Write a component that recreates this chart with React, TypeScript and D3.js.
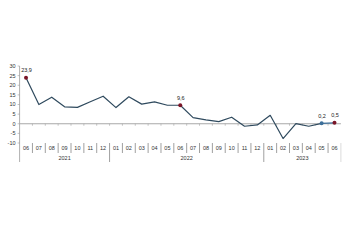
import React from "react";
import * as d3 from "d3";

const months = ["06","07","08","09","10","11","12","01","02","03","04","05","06","07","08","09","10","11","12","01","02","03","04","05","06"];
const values = [23.9,10.0,13.8,8.8,8.5,11.4,14.3,8.4,14.0,10.2,11.4,9.6,9.6,3.2,2.0,1.1,3.4,-1.3,-0.6,4.4,-7.7,0.1,-1.3,0.2,0.5];
const years = [
  { label: "2021", start: 0, end: 6 },
  { label: "2022", start: 7, end: 18 },
  { label: "2023", start: 19, end: 24 },
];
const yTicks = [30,25,20,15,10,5,0,-5,-10];
const labelled = [
  { i: 0, text: "23,9", color: "#7a1426" },
  { i: 12, text: "9,6", color: "#7a1426" },
  { i: 23, text: "0,2", color: "#3d6f9a" },
  { i: 24, text: "0,5", color: "#7a1426" },
];

export default function App() {
  const W = 350, H = 250;
  const idx = months.map((_, i) => i);
  const x = d3.scaleBand<number>().domain(idx).range([19.6, 340.9]).padding(0);
  const bw = x.bandwidth();
  const cx = (i: number) => (x(i) as number) + bw / 2;
  const y = d3.scaleLinear().domain([-10, 30]).range([143, 66]);
  const line = d3.line<number>().x((_, i) => cx(i)).y((d) => y(d));
  const mainPts = values.slice(0, 24);
  const lastSeg = values.slice(23);
  const lastLine = d3.line<number>().x((_, i) => cx(i + 23)).y((d) => y(d));
  const y0 = y(0);
  const font = "Liberation Sans, Arial, sans-serif";
  return (
    <div style={{ position: "absolute", left: 0, top: 0 }}>
      <svg width={W} height={H} style={{ display: "block", background: "#fff" }}>
        {/* y axis */}
        <line x1={19.6} x2={19.6} y1={66} y2={162} stroke="#9a9a9a" strokeWidth={0.8} />
        {yTicks.map((t) => (
          <g key={t}>
            <line x1={17.6} x2={19.6} y1={y(t)} y2={y(t)} stroke="#9a9a9a" strokeWidth={0.6} />
            <text x={15.5} y={y(t)} dy="0.35em" textAnchor="end" fontSize={5.5} fontFamily={font} fill="#333">{t}</text>
          </g>
        ))}
        {/* zero line */}
        <line x1={19.6} x2={340.9} y1={y0} y2={y0} stroke="#a8a8a8" strokeWidth={1.2} />
        {idx.slice(1).map((i) => (
          <line key={"zt" + i} x1={x(i) as number} x2={x(i) as number} y1={y0} y2={y0 + 2} stroke="#a0a0a0" strokeWidth={0.6} />
        ))}
        {/* category separators */}
        {idx.slice(1).map((i) => {
          const isYear = years.some((yy) => yy.start === i);
          return (
            <line key={"sep" + i} x1={x(i) as number} x2={x(i) as number} y1={143} y2={isYear ? 162 : 153} stroke="#777" strokeWidth={0.7} />
          );
        })}
        <line x1={340.9} x2={340.9} y1={143} y2={162} stroke="#ccc" strokeWidth={0.7} />
        {months.map((m, i) => (
          <text key={"m" + i} x={cx(i)} y={148.5} dy="0.35em" textAnchor="middle" fontSize={5.5} fontFamily={font} fill="#333">{m}</text>
        ))}
        {years.map((yy) => (
          <text key={yy.label} x={(cx(yy.start) + cx(yy.end)) / 2} y={158.3} dy="0.35em" textAnchor="middle" fontSize={5.5} fontFamily={font} fill="#333">{yy.label}</text>
        ))}
        {/* series */}
        <path d={line(mainPts) || ""} fill="none" stroke="#2f4a5e" strokeWidth={1.2} strokeLinejoin="round" />
        <path d={lastLine(lastSeg) || ""} fill="none" stroke="#3d6f9a" strokeWidth={1.2} />
        {labelled.map((l) => (
          <g key={"l" + l.i}>
            <circle cx={cx(l.i)} cy={y(values[l.i])} r={2} fill={l.color} />
            <text x={cx(l.i) + 0.5} y={y(values[l.i]) - 7.5} dy="0.35em" textAnchor="middle" fontSize={5.5} fontFamily={font} fill="#222">{l.text}</text>
          </g>
        ))}
      </svg>
    </div>
  );
}
